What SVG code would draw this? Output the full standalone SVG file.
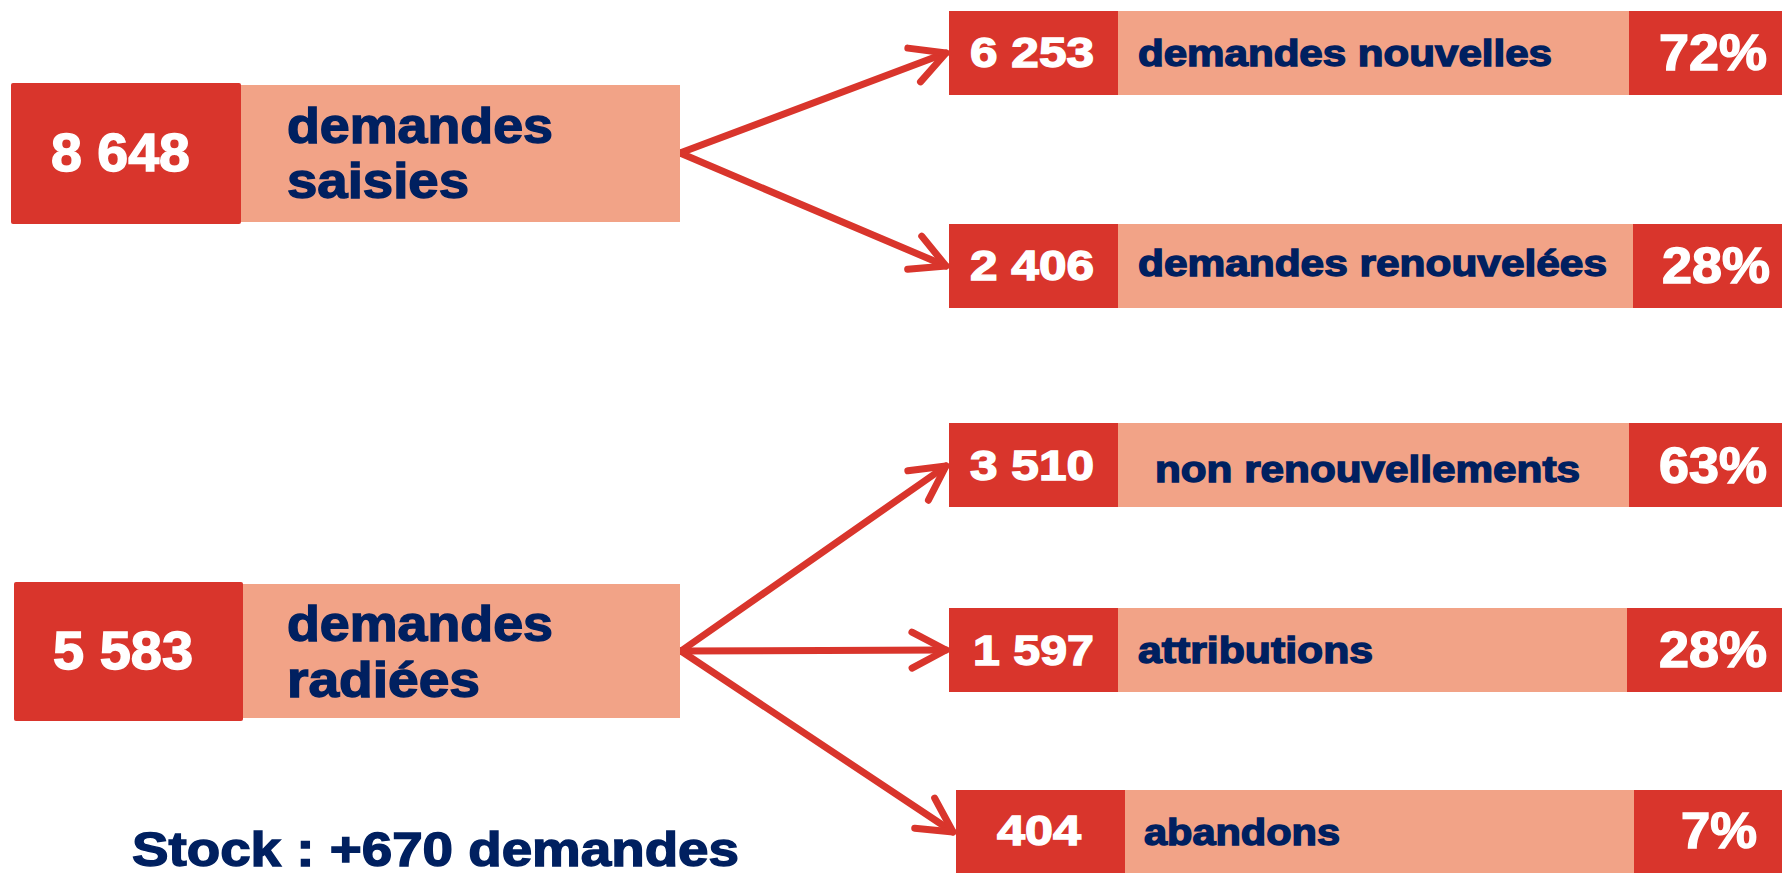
<svg xmlns="http://www.w3.org/2000/svg" width="1782" height="873" viewBox="0 0 1782 873">
<style>
.red{fill:#d9352c}
.sal{fill:#f2a387}
.w{fill:#ffffff;stroke:#ffffff;stroke-width:1.4;font-family:"Liberation Sans",Arial,sans-serif;font-weight:bold}
.b{fill:#002060;stroke:#002060;stroke-width:1.4;font-family:"Liberation Sans",Arial,sans-serif;font-weight:bold}
.bignum{font-size:53px}
.big{font-size:50px}
.lab{font-size:36px}
.num{font-size:43px}
.pct{font-size:50px}
.conn{stroke:#d9352c;stroke-width:7;fill:none;stroke-linecap:round}
</style>
<defs>
<marker id="ah" viewBox="-40 -22 46 44" refX="0" refY="0" markerWidth="46" markerHeight="44" markerUnits="userSpaceOnUse" orient="auto" overflow="visible">
<path d="M-34 -18 L0 0 L-34 18" fill="none" stroke="#d9352c" stroke-width="7" stroke-linecap="round" stroke-linejoin="round"/>
</marker>
</defs>
<rect width="1782" height="873" fill="#ffffff"/>
<g id="connectors">
<line class="conn" x1="680" y1="153" x2="946" y2="53" marker-end="url(#ah)"/>
<line class="conn" x1="680" y1="153" x2="946" y2="266" marker-end="url(#ah)"/>
<line class="conn" x1="681" y1="651" x2="946" y2="466" marker-end="url(#ah)"/>
<line class="conn" x1="681" y1="651" x2="946" y2="650" marker-end="url(#ah)"/>
<line class="conn" x1="681" y1="651" x2="953" y2="832" marker-end="url(#ah)"/>
</g>
<g id="saisies">
<rect class="sal" x="241" y="85" width="439" height="137"/>
<rect class="red" x="11" y="83" width="230" height="141" rx="2"/>
<text class="w bignum" x="51" y="171" textLength="139" lengthAdjust="spacingAndGlyphs">8 648</text>
<text class="b big" x="287" y="143" textLength="266" lengthAdjust="spacingAndGlyphs">demandes</text>
<text class="b big" x="287" y="198" textLength="182" lengthAdjust="spacingAndGlyphs">saisies</text>
</g>
<g id="radiees">
<rect class="sal" x="243" y="584" width="437" height="134"/>
<rect class="red" x="14" y="582" width="229" height="139" rx="2"/>
<text class="w bignum" x="53" y="669" textLength="140" lengthAdjust="spacingAndGlyphs">5 583</text>
<text class="b big" x="287" y="641" textLength="266" lengthAdjust="spacingAndGlyphs">demandes</text>
<text class="b big" x="287" y="697" textLength="193" lengthAdjust="spacingAndGlyphs">radiées</text>
</g>
<g id="nouvelles">
<rect class="red" x="949" y="11" width="169" height="84"/>
<rect class="sal" x="1118" y="11" width="511" height="84"/>
<rect class="red" x="1629" y="11" width="153" height="84"/>
<text class="w num" x="970" y="67" textLength="124" lengthAdjust="spacingAndGlyphs">6 253</text>
<text class="b lab" x="1138" y="66" textLength="414" lengthAdjust="spacingAndGlyphs">demandes nouvelles</text>
<text class="w pct" x="1659" y="70" textLength="108" lengthAdjust="spacingAndGlyphs">72%</text>
</g>
<g id="renouvelees">
<rect class="red" x="949" y="224" width="169" height="84"/>
<rect class="sal" x="1118" y="224" width="515" height="84"/>
<rect class="red" x="1633" y="224" width="149" height="84"/>
<text class="w num" x="970" y="280" textLength="124" lengthAdjust="spacingAndGlyphs">2 406</text>
<text class="b lab" x="1138" y="276" textLength="469" lengthAdjust="spacingAndGlyphs">demandes renouvelées</text>
<text class="w pct" x="1662" y="283" textLength="108" lengthAdjust="spacingAndGlyphs">28%</text>
</g>
<g id="nonrenouv">
<rect class="red" x="949" y="423" width="169" height="84"/>
<rect class="sal" x="1118" y="423" width="511" height="84"/>
<rect class="red" x="1629" y="423" width="153" height="84"/>
<text class="w num" x="970" y="480" textLength="124" lengthAdjust="spacingAndGlyphs">3 510</text>
<text class="b lab" x="1155" y="482" textLength="425" lengthAdjust="spacingAndGlyphs">non renouvellements</text>
<text class="w pct" x="1659" y="483" textLength="108" lengthAdjust="spacingAndGlyphs">63%</text>
</g>
<g id="attributions">
<rect class="red" x="949" y="608" width="169" height="84"/>
<rect class="sal" x="1118" y="608" width="509" height="84"/>
<rect class="red" x="1627" y="608" width="155" height="84"/>
<text class="w num" x="973" y="665" textLength="121" lengthAdjust="spacingAndGlyphs">1 597</text>
<text class="b lab" x="1138" y="663" textLength="235" lengthAdjust="spacingAndGlyphs">attributions</text>
<text class="w pct" x="1659" y="667" textLength="108" lengthAdjust="spacingAndGlyphs">28%</text>
</g>
<g id="abandons">
<rect class="red" x="956" y="790" width="169" height="83"/>
<rect class="sal" x="1125" y="790" width="509" height="83"/>
<rect class="red" x="1634" y="790" width="148" height="83"/>
<text class="w num" x="997" y="845" textLength="84" lengthAdjust="spacingAndGlyphs">404</text>
<text class="b lab" x="1144" y="845" textLength="196" lengthAdjust="spacingAndGlyphs">abandons</text>
<text class="w pct" x="1681" y="848" textLength="76" lengthAdjust="spacingAndGlyphs">7%</text>
</g>
<g id="stock">
<text class="b big" x="132" y="866" style="font-size:48px" textLength="607" lengthAdjust="spacingAndGlyphs">Stock : +670 demandes</text>
</g>
</svg>
